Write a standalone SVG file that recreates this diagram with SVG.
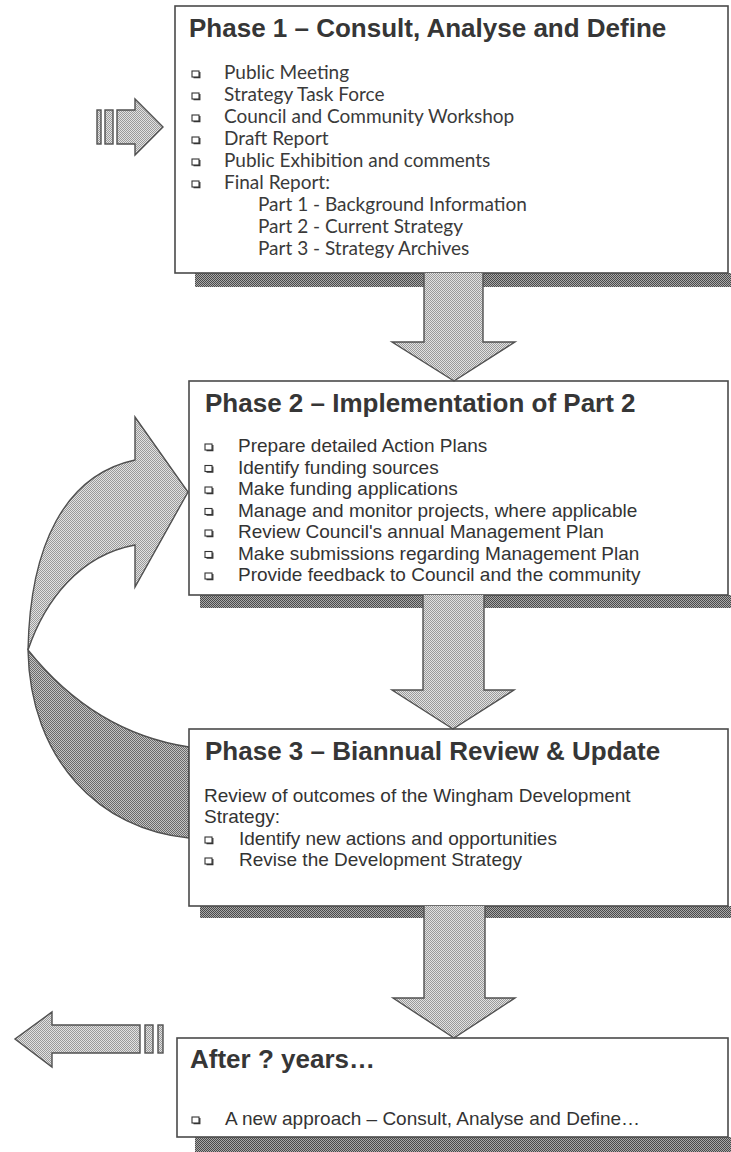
<svg xmlns="http://www.w3.org/2000/svg" width="731" height="1152" viewBox="0 0 731 1152">
<defs>
<pattern id="dk" width="2" height="2" patternUnits="userSpaceOnUse"><rect width="2" height="2" fill="#a8a8a8"/><rect width="1" height="1" fill="#4a4a4a"/><rect x="1" y="1" width="1" height="1" fill="#4a4a4a"/></pattern>
<pattern id="lt" width="2" height="2" patternUnits="userSpaceOnUse"><rect width="2" height="2" fill="#e2e2e2"/><rect width="1" height="1" fill="#9a9a9a"/><rect x="1" y="1" width="1" height="1" fill="#9a9a9a"/></pattern>
<pattern id="md" width="2" height="2" patternUnits="userSpaceOnUse"><rect width="2" height="2" fill="#c4c4c4"/><rect width="1" height="1" fill="#6a6a6a"/><rect x="1" y="1" width="1" height="1" fill="#6a6a6a"/></pattern>
<g id="b"><rect x="0" y="-8" width="7" height="6" fill="#fff" stroke="#333" stroke-width="1.1"/><path d="M1.5,-1.3 H7.8 V-7" stroke="#333" stroke-width="1.3" fill="none"/></g>
</defs>
<style>
.box{fill:#fff;stroke:#4a4a4a;stroke-width:1.6}
.sh{fill:url(#dk)}
.t{font-family:"Liberation Sans",Arial,sans-serif;font-weight:bold;font-size:26px;fill:#363636}
.a{font-family:"Liberation Sans",Arial,sans-serif;font-size:19px;fill:#333}
.g{font-family:Lato,"Open Sans",sans-serif;font-size:19px;fill:#3a3a3a}
.arr{fill:url(#lt);stroke:#505050;stroke-width:1.4;stroke-linejoin:miter}
.arrd{fill:url(#md);stroke:#505050;stroke-width:1.4}
</style>
<rect width="731" height="1152" fill="#fff"/>

<g id="connectors">
<!-- input arrow -->
<rect class="arr" x="97" y="110" width="4" height="34"/>
<rect class="arr" x="105" y="110" width="8" height="34"/>
<path class="arr" d="M117,110 H135 V99 L163,127 L135,155 V144 H117 Z"/>
<!-- output arrow -->
<rect class="arr" x="145" y="1025" width="8" height="28"/>
<rect class="arr" x="158" y="1025" width="5" height="28"/>
<path class="arr" d="M140,1025 H52 V1012 L15,1039 L52,1067 V1053 H140 Z"/>
<!-- curved feedback arrow -->
<path class="arrd" d="M28,650 C60,690 110,735 189,747 L189,838 C100,830 30,760 28,650 Z"/>
<path class="arr" d="M135,460 V417 L188,492 L135,587 V545 C80,555 45,600 28,650 C30,545 65,475 135,460 Z"/>
</g>

<g id="phase1">
<rect class="sh" x="195" y="273" width="536" height="14"/>
<rect class="box" x="175" y="6" width="553" height="267"/>
<text class="t" x="189" y="37">Phase 1 – Consult, Analyse and Define</text>
<use href="#b" x="192" y="79"/><text class="g" x="224" y="79">Public Meeting</text>
<use href="#b" x="192" y="101"/><text class="g" x="224" y="101">Strategy Task Force</text>
<use href="#b" x="192" y="123"/><text class="g" x="224" y="123">Council and Community Workshop</text>
<use href="#b" x="192" y="145"/><text class="g" x="224" y="145">Draft Report</text>
<use href="#b" x="192" y="167"/><text class="g" x="224" y="167">Public Exhibition and comments</text>
<use href="#b" x="192" y="189"/><text class="g" x="224" y="189">Final Report:</text>
<text class="g" x="258" y="211">Part 1 - Background Information</text>
<text class="g" x="258" y="233">Part 2 - Current Strategy</text>
<text class="g" x="258" y="255">Part 3 - Strategy Archives</text>
</g>

<g id="phase2">
<rect class="sh" x="200" y="595" width="531" height="13"/>
<rect class="box" x="189" y="381" width="539" height="214"/>
<text class="t" x="205" y="412">Phase 2 – Implementation of Part 2</text>
<use href="#b" x="205" y="452"/><text class="a" x="238" y="452">Prepare detailed Action Plans</text>
<use href="#b" x="205" y="473.5"/><text class="a" x="238" y="473.5">Identify funding sources</text>
<use href="#b" x="205" y="495"/><text class="a" x="238" y="495">Make funding applications</text>
<use href="#b" x="205" y="516.5"/><text class="a" x="238" y="516.5">Manage and monitor projects, where applicable</text>
<use href="#b" x="205" y="538"/><text class="a" x="238" y="538">Review Council's annual Management Plan</text>
<use href="#b" x="205" y="559.5"/><text class="a" x="238" y="559.5">Make submissions regarding Management Plan</text>
<use href="#b" x="205" y="581"/><text class="a" x="238" y="581">Provide feedback to Council and the community</text>
</g>

<g id="phase3">
<rect class="sh" x="200" y="906" width="531" height="12"/>
<rect class="box" x="189" y="729" width="539" height="177"/>
<text class="t" x="205" y="760">Phase 3 – Biannual Review &amp; Update</text>
<text class="a" x="204" y="802">Review of outcomes of the Wingham Development</text>
<text class="a" x="204" y="823">Strategy:</text>
<use href="#b" x="205" y="845"/><text class="a" x="239" y="845">Identify new actions and opportunities</text>
<use href="#b" x="205" y="866"/><text class="a" x="239" y="866">Revise the Development Strategy</text>
</g>

<g id="after">
<rect class="sh" x="195" y="1137" width="536" height="15"/>
<rect class="box" x="177" y="1038" width="551" height="99"/>
<text class="t" x="190" y="1068">After ? years…</text>
<use href="#b" x="192" y="1125"/><text class="a" x="225" y="1125">A new approach – Consult, Analyse and Define…</text>
</g>

<g id="down-arrows">
<path class="arr" d="M424,273 V342 H392 L454,381 L515,342 H483 V273"/>
<path class="arr" d="M423,595 V690 H392 L453,729 L514,690 H484 V595"/>
<path class="arr" d="M424,906 V998 H393 L454,1038 L515,998 H485 V906"/>
</g>
</svg>
